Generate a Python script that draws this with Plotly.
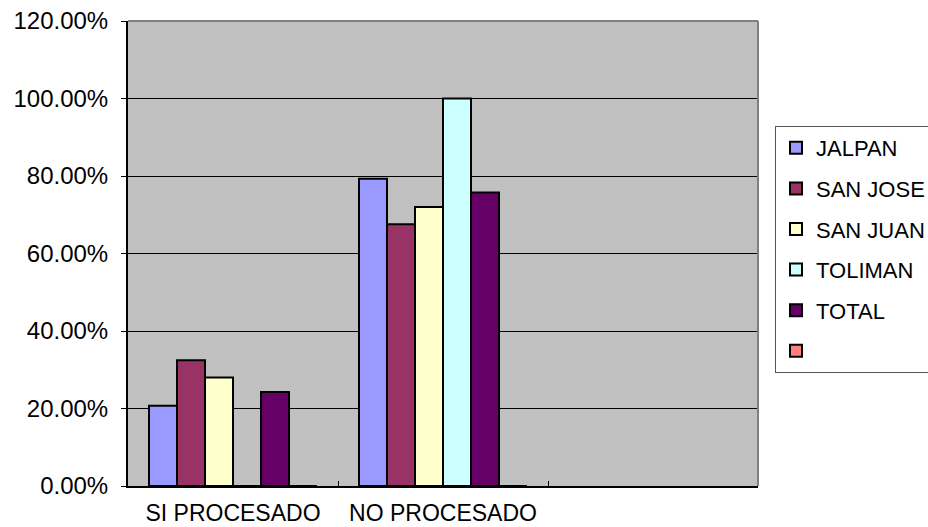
import plotly.graph_objects as go

CATEGORIES = ["SI PROCESADO", "NO PROCESADO", " "]
SERIES_NAMES = ["JALPAN", "SAN JOSE", "SAN JUAN", "TOLIMAN", "TOTAL", " "]
JALPAN = [0.2069, 0.7931, None]
SAN_JOSE = [0.3243, 0.6757, None]
SAN_JUAN = [0.28, 0.72, None]
TOLIMAN = [0.0, 1.0, None]
TOTAL = [0.2424, 0.7576, None]
BLANK = [0.0, 0.0, None]
Y_TICKS = [0, 0.2, 0.4, 0.6, 0.8, 1.0, 1.2]

SERIES_VALUES = [JALPAN, SAN_JOSE, SAN_JUAN, TOLIMAN, TOTAL, BLANK]
COLORS = ["#9999FF", "#993366", "#FFFFCC", "#CCFFFF", "#660066", "#FF8080"]

FONT = "Arial, 'Liberation Sans', sans-serif"

fig = go.Figure()
for i, (name, vals, col) in enumerate(zip(SERIES_NAMES, SERIES_VALUES, COLORS)):
    fig.add_trace(go.Bar(
        x=CATEGORIES, y=vals, name=name,
        marker=dict(color=col, line=dict(color="black", width=2)),
        legendgroup=f"g{i}",
    ))

fig.update_layout(
    width=928, height=527,
    margin=dict(l=128, r=170, t=21, b=41, autoexpand=False),
    paper_bgcolor="white",
    plot_bgcolor="#C0C0C0",
    barmode="group",
    bargap=0.2,
    bargroupgap=0,
    font=dict(family=FONT, size=24, color="black"),
    legend=dict(
        x=(775 - 128) / 630, xanchor="left",
        y=(486 - 126) / 465, yanchor="top",
        bgcolor="white",
        bordercolor="#555555", borderwidth=1,
        font=dict(family=FONT, size=22, color="black"),
        traceorder="grouped",
        tracegroupgap=9,
        itemclick=False,
    ),
    xaxis=dict(
        type="category",
        categoryorder="array", categoryarray=CATEGORIES,
        range=[-0.5, 2.5],
        tickson="boundaries",
        tickangle=0,
        automargin=False,
        ticks="inside", ticklen=5, tickcolor="black", tickwidth=1,
        showline=True, linecolor="black", linewidth=2,
        showgrid=False,
        ticklabelstandoff=5,
        tickfont=dict(family=FONT, size=23, color="black"),
    ),
    yaxis=dict(
        range=[0, 1.2],
        tickvals=Y_TICKS,
        tickformat=".2%",
        automargin=False,
        ticks="outside", ticklen=5, tickcolor="black", tickwidth=1,
        showline=True, linecolor="black", linewidth=2,
        showgrid=True, gridcolor="black", gridwidth=1,
        zeroline=False,
        ticklabelstandoff=8,
        tickfont=dict(family=FONT, size=24, color="black"),
    ),
    shapes=[
        dict(type="line", xref="paper", yref="paper", x0=0, x1=1, y0=1, y1=1,
             line=dict(color="#808080", width=2), layer="above"),
        dict(type="line", xref="paper", yref="paper", x0=1, x1=1, y0=0, y1=1,
             line=dict(color="#808080", width=2), layer="above"),
    ],
)

fig.write_html("out.html")
